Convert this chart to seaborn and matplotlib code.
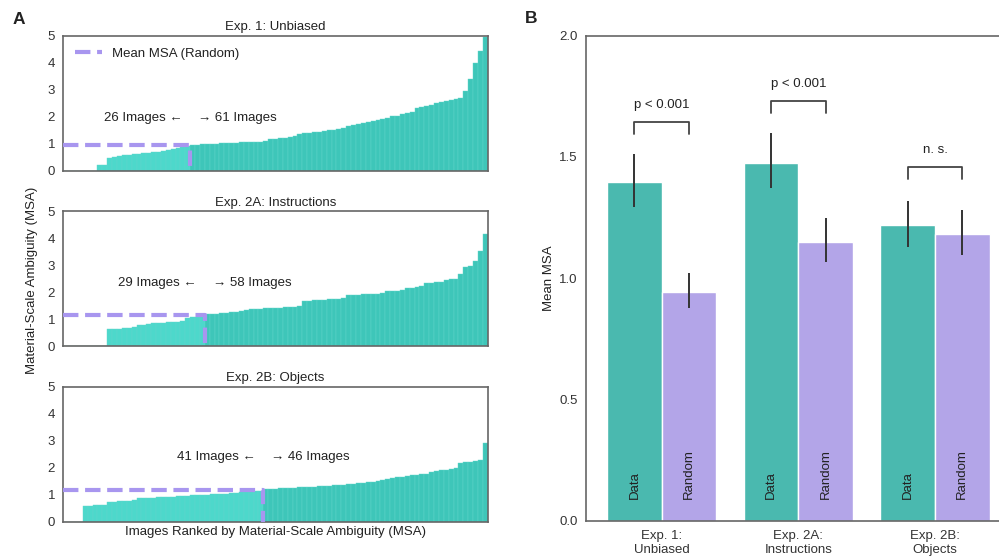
import seaborn as sns
import matplotlib.pyplot as plt
import numpy as np
import pandas as pd

sns.set_theme(style="white")
plt.rcParams['font.family'] = ['Liberation Sans', 'DejaVu Sans']
plt.rcParams['font.size'] = 9.5
plt.rcParams['text.color'] = '#222222'
plt.rcParams['axes.labelcolor'] = '#222222'

# PANEL A: per-image MSA, sorted
exp1_msa = [0, 0, 0, 0, 0, 0, 0,
            0.22, 0.22, 0.48, 0.5, 0.55, 0.58, 0.6, 0.62, 0.64, 0.66, 0.68, 0.7, 0.72, 0.74, 0.76, 0.8, 0.84, 0.88, 0.92,
            0.97, 0.98, 0.99, 1.0, 1.0, 1.01, 1.02, 1.03, 1.04, 1.05, 1.06, 1.07, 1.08, 1.08, 1.09, 1.1,
            1.19, 1.2, 1.22, 1.24, 1.26, 1.28,
            1.37, 1.39, 1.41, 1.43, 1.45, 1.47,
            1.5, 1.53, 1.56, 1.6,
            1.67, 1.7, 1.74, 1.78, 1.82, 1.86,
            1.9, 1.94, 1.98, 2.02,
            2.05, 2.1, 2.15, 2.2,
            2.33, 2.36, 2.4, 2.45, 2.5, 2.55,
            2.6, 2.62, 2.65,
            2.7, 2.96, 3.4, 4.0, 4.44, 4.97]

exp2a_msa = [0, 0, 0, 0, 0, 0, 0, 0, 0,
             0.64, 0.65, 0.66, 0.68, 0.7, 0.72, 0.8, 0.81, 0.83, 0.85, 0.87, 0.88, 0.9, 0.91, 0.92, 0.93, 1.06, 1.08, 1.1, 1.12,
             1.19, 1.2, 1.21, 1.22, 1.24, 1.26, 1.28, 1.3,
             1.36, 1.38, 1.39, 1.4, 1.41, 1.42, 1.43, 1.44, 1.45, 1.46, 1.47, 1.48,
             1.69, 1.7, 1.71, 1.72, 1.73, 1.74, 1.75, 1.77, 1.79,
             1.9, 1.91, 1.92, 1.93, 1.94, 1.95, 1.96, 1.97,
             2.05, 2.06, 2.07, 2.08,
             2.15, 2.17, 2.19, 2.22,
             2.34, 2.36, 2.38, 2.4,
             2.46, 2.48, 2.5,
             2.67, 2.93, 2.97, 3.16, 3.53, 4.15]

exp2b_msa = [0, 0, 0, 0,
             0.58, 0.59, 0.6, 0.61, 0.63,
             0.72, 0.74,
             0.76, 0.77, 0.78, 0.8,
             0.86, 0.87, 0.88, 0.89, 0.9, 0.91, 0.92, 0.93, 0.94, 0.95, 0.96, 0.97, 0.98, 0.99, 1.0, 1.01,
             1.02, 1.03, 1.04, 1.05, 1.06, 1.08, 1.1, 1.11, 1.12, 1.14,
             1.2, 1.21, 1.22, 1.23, 1.24, 1.25, 1.26, 1.27, 1.28, 1.29, 1.3, 1.31, 1.32, 1.33, 1.34, 1.36,
             1.37, 1.38, 1.4, 1.42, 1.44, 1.46, 1.48,
             1.52, 1.55, 1.58, 1.62, 1.65, 1.67,
             1.7, 1.72, 1.74, 1.76, 1.78, 1.82, 1.88, 1.9,
             1.92, 1.95, 2.0,
             2.18, 2.2, 2.22, 2.25, 2.28,
             2.9]

panel_titles = ["Exp. 1: Unbiased", "Exp. 2A: Instructions", "Exp. 2B: Objects"]
count_text_y = [1.95, 2.35, 2.4]

# PANEL B
experiments = ["Exp. 1:\nUnbiased", "Exp. 2A:\nInstructions", "Exp. 2B:\nObjects"]
data_mean = [1.395, 1.474, 1.218]
data_lo = [1.295, 1.371, 1.130]
data_hi = [1.511, 1.598, 1.320]
random_mean = [0.945, 1.15, 1.182]
random_lo = [0.876, 1.068, 1.096]
random_hi = [1.023, 1.247, 1.281]
bracket_y = [1.645, 1.732, 1.457]
bracket_text = ["p < 0.001", "p < 0.001", "n. s."]

below_col = '#4dd8cb'
above_col = '#3ec6b9'
data_col = '#4ab9af'
random_col = '#b3a5e8'
line_col = '#a896ef'
spine_col = '#666666'

fig = plt.figure(figsize=(9.99, 5.57), dpi=100)

bottoms = [0.693, 0.378, 0.0635]
for k, vals in enumerate([exp1_msa, exp2a_msa, exp2b_msa]):
    ax = fig.add_axes([0.0634, bottoms[k], 0.4248, 0.2425])
    m = random_mean[k]
    df = pd.DataFrame({'rank': range(len(vals)), 'msa': vals,
                       'side': ['below' if v < m else 'above' for v in vals]})
    sns.barplot(data=df, x='rank', y='msa', hue='side',
                palette={'below': below_col, 'above': above_col}, saturation=1,
                dodge=False, width=1.0, errorbar=None, legend=False,
                edgecolor='#62d6cb', linewidth=0.3, ax=ax)
    n_below = int((df['side'] == 'below').sum())
    n_above = len(vals) - n_below
    split = n_below - 0.5
    xl = (-0.5, len(vals) - 0.5)
    ax.plot([xl[0], split, split], [m, m, 0], color=line_col, lw=3, ls='--',
            label='Mean MSA (Random)', zorder=5)
    ax.set_xlim(xl)
    ax.text(split - 1.6, count_text_y[k], f"{n_below} Images \u2190", ha='right', va='center', fontsize=9.5)
    ax.text(split + 1.6, count_text_y[k], f"\u2192 {n_above} Images", ha='left', va='center', fontsize=9.5)
    if k == 0:
        ax.legend(loc='upper left', frameon=False, fontsize=9.5, handlelength=2.0)
    ax.set_ylim(0, 5)
    ax.set_yticks(range(6))
    ax.set_xticks([])
    ax.set_ylabel('')
    ax.set_xlabel('Images Ranked by Material-Scale Ambiguity (MSA)' if k == 2 else '',
                  fontsize=9.5, labelpad=3)
    ax.set_title(panel_titles[k], fontsize=9.5, pad=4)
    ax.tick_params(axis='y', length=0, pad=6, labelsize=9.5, colors='#333333')
    for s in ax.spines.values():
        s.set_color(spine_col)
        s.set_linewidth(1.2)

fig.text(32 / 999, 1 - 280 / 557, 'Material-Scale Ambiguity (MSA)', rotation=90,
         ha='center', va='center', fontsize=9.5)

# right panel
axB = fig.add_axes([0.5866, 0.0652, 0.4251, 0.8708])
dfB = pd.DataFrame({'exp': experiments * 2,
                    'kind': ['Data'] * 3 + ['Random'] * 3,
                    'msa': data_mean + random_mean})
sns.barplot(data=dfB, x='exp', y='msa', hue='kind',
            palette={'Data': data_col, 'Random': random_col}, saturation=1,
            width=0.8, errorbar=None, legend=False, ax=axB)
axB.set_xlim(-0.554, 2.554)
axB.set_ylim(0, 2.0)
axB.set_yticks([0, 0.5, 1.0, 1.5, 2.0])
axB.set_yticklabels(['0.0', '0.5', '1.0', '1.5', '2.0'])

centers = sorted(p.get_x() + p.get_width() / 2 for p in axB.patches)
data_x = centers[0::2]
rand_x = centers[1::2]
axB.vlines(data_x, data_lo, data_hi, color='#333333', lw=1.4, zorder=4)
axB.vlines(rand_x, random_lo, random_hi, color='#333333', lw=1.4, zorder=4)

for i in range(3):
    b = bracket_y[i]
    axB.plot([data_x[i], data_x[i], rand_x[i], rand_x[i]], [b - 0.05, b, b, b - 0.05],
             color='#444444', lw=1.3)
    axB.text((data_x[i] + rand_x[i]) / 2, b + 0.045, bracket_text[i],
             ha='center', va='bottom', fontsize=9.5)
    axB.text(data_x[i], 0.09, 'Data', rotation=90, ha='center', va='bottom', fontsize=9.5)
    axB.text(rand_x[i], 0.09, 'Random', rotation=90, ha='center', va='bottom', fontsize=9.5)

axB.set_xlabel('')
axB.set_ylabel('Mean MSA', fontsize=9.5, labelpad=3)
axB.tick_params(length=0, labelsize=9.5, colors='#333333')
axB.tick_params(axis='y', pad=6)
axB.tick_params(axis='x', pad=7)
axB.spines['right'].set_visible(False)
for s in ['left', 'top', 'bottom']:
    axB.spines[s].set_color(spine_col)
    axB.spines[s].set_linewidth(1.2)

fig.text(13 / 999, 1 - 19.5 / 557, 'A', fontsize=12.5, weight='bold', va='center', ha='left')
fig.text(525 / 999, 1 - 18.5 / 557, 'B', fontsize=12.5, weight='bold', va='center', ha='left')

fig.savefig('out.png', dpi=100)
